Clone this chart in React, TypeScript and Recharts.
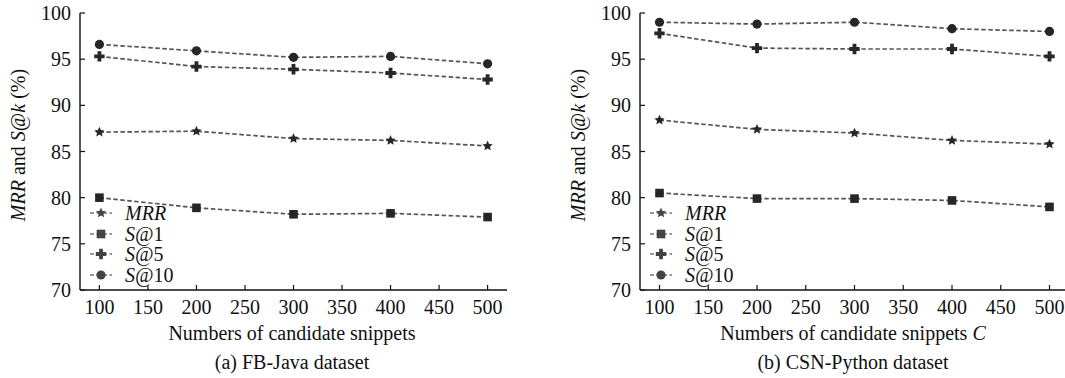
import React from 'react';
import { LineChart, Line, XAxis, YAxis, Legend } from 'recharts';

const candidates = [100, 200, 300, 400, 500];
const xTicks = [100, 150, 200, 250, 300, 350, 400, 450, 500];
const yTicks = [70, 75, 80, 85, 90, 95, 100];

const javaMRR = [87.1, 87.2, 86.4, 86.2, 85.6];
const javaS1 = [80.0, 78.9, 78.2, 78.3, 77.9];
const javaS5 = [95.3, 94.2, 93.9, 93.5, 92.8];
const javaS10 = [96.6, 95.9, 95.2, 95.3, 94.5];

const pyMRR = [88.4, 87.4, 87.0, 86.2, 85.8];
const pyS1 = [80.5, 79.9, 79.9, 79.7, 79.0];
const pyS5 = [97.8, 96.2, 96.1, 96.1, 95.3];
const pyS10 = [99.0, 98.8, 99.0, 98.3, 98.0];

const FONT = "'Liberation Serif', 'Times New Roman', serif";
const MARK = '#262626';
const LINE = '#555555';

const buildData = (mrr: number[], s1: number[], s5: number[], s10: number[]) =>
  candidates.map((c, i) => ({ x: c, mrr: mrr[i], s1: s1[i], s5: s5[i], s10: s10[i] }));

const javaData = buildData(javaMRR, javaS1, javaS5, javaS10);
const pyData = buildData(pyMRR, pyS1, pyS5, pyS10);

type Shape = 'star' | 'square' | 'plus' | 'circle';

function Marker({ shape, cx, cy, color = MARK }: { shape: Shape; cx: number; cy: number; color?: string }) {
  if (cx == null || cy == null) return null;
  if (shape === 'circle') return <circle cx={cx} cy={cy} r={4.6} fill={color} />;
  if (shape === 'square') return <rect x={cx - 4.3} y={cy - 4.3} width={8.6} height={8.6} fill={color} />;
  if (shape === 'star') {
    const pts: string[] = [];
    for (let i = 0; i < 10; i++) {
      const r = i % 2 === 0 ? 5.4 : 2.5;
      const a = -Math.PI / 2 + (i * Math.PI) / 5;
      pts.push(`${cx + r * Math.cos(a)},${cy + r * Math.sin(a)}`);
    }
    return <polygon points={pts.join(' ')} fill={color} />;
  }
  const a = 5.2;
  const w = 1.9;
  const d = `M${cx - w},${cy - a} L${cx + w},${cy - a} L${cx + w},${cy - w} L${cx + a},${cy - w} L${cx + a},${cy + w} L${cx + w},${cy + w} L${cx + w},${cy + a} L${cx - w},${cy + a} L${cx - w},${cy + w} L${cx - a},${cy + w} L${cx - a},${cy - w} L${cx - w},${cy - w} Z`;
  return <path d={d} fill={color} />;
}

const series: { key: string; shape: Shape; label: React.ReactNode }[] = [
  { key: 'mrr', shape: 'star', label: <i>MRR</i> },
  { key: 's1', shape: 'square', label: <><i>S@</i>1</> },
  { key: 's5', shape: 'plus', label: <><i>S@</i>5</> },
  { key: 's10', shape: 'circle', label: <><i>S@</i>10</> },
];

const LegendBox = () => (
  <div style={{ fontFamily: FONT, fontSize: 20, color: '#111' }}>
    {series.map((s) => (
      <div key={s.key} style={{ display: 'flex', alignItems: 'center', height: 20.5 }}>
        <svg width={35} height={20} style={{ display: 'block' }}>
          <line x1={0} y1={10} x2={22} y2={10} stroke="#777" strokeWidth={1.6} strokeDasharray="4 2.5" />
          <Marker shape={s.shape} cx={11} cy={10} color="#444" />
        </svg>
        <span style={{ lineHeight: '20px', fontFamily: FONT }}>{s.label}</span>
      </div>
    ))}
  </div>
);

const YTitle = (props: any) => {
  const vb = props.viewBox || { x: 10, y: 13, width: 70, height: 277 };
  const bx = vb.x + 15;
  const cy = 145;
  return (
    <text
      x={bx}
      y={cy}
      transform={`rotate(-90, ${bx}, ${cy})`}
      textAnchor="middle"
      fontFamily={FONT}
      style={{ fontFamily: FONT }}
      fontSize={20}
      fill="#111"
    >
      <tspan fontStyle="italic">MRR</tspan>
      <tspan> and </tspan>
      <tspan fontStyle="italic">S</tspan>
      <tspan>@</tspan>
      <tspan fontStyle="italic">k</tspan>
      <tspan> (%)</tspan>
    </text>
  );
};

function Panel({
  data,
  left,
  width,
  marginRight,
  center,
  xTitle,
  caption,
}: {
  data: any[];
  left: number;
  width: number;
  marginRight: number;
  center: number;
  xTitle: React.ReactNode;
  caption: string;
}) {
  const tickStyle = { fill: '#111', fontSize: 20, fontFamily: FONT };
  return (
    <>
      <div style={{ position: 'absolute', left, top: 0, fontFamily: FONT }}>
        <LineChart
          width={width}
          height={378}
          data={data}
          style={{ fontFamily: FONT }}
          margin={{ top: 13, right: marginRight, bottom: 58, left: 10 }}
        >
          <XAxis
            xAxisId="b"
            dataKey="x"
            type="number"
            domain={[80, 520]}
            ticks={xTicks}
            interval={0}
            allowDataOverflow
            height={30}
            tickSize={-5}
            tickMargin={15}
            tick={tickStyle}
            axisLine={{ stroke: '#111', strokeWidth: 1.4 }}
            tickLine={{ stroke: '#111', strokeWidth: 1.2 }}
          />
          <XAxis
            xAxisId="t"
            orientation="top"
            type="number"
            domain={[80, 520]}
            height={0}
            tick={false}
            tickLine={false}
            axisLine={{ stroke: '#111', strokeWidth: 1.4 }}
          />
          <YAxis
            yAxisId="l"
            type="number"
            domain={[70, 100]}
            ticks={yTicks}
            interval={0}
            width={70}
            tickSize={-5}
            tickMargin={14}
            tick={tickStyle}
            axisLine={{ stroke: '#111', strokeWidth: 1.4 }}
            tickLine={{ stroke: '#111', strokeWidth: 1.2 }}
            label={{ content: (p: any) => <YTitle {...p} /> }}
          />
          <YAxis
            yAxisId="r"
            orientation="right"
            type="number"
            domain={[70, 100]}
            width={0}
            tick={false}
            tickLine={false}
            axisLine={{ stroke: '#111', strokeWidth: 1.4 }}
          />
          <Legend
            layout="vertical"
            align="center"
            verticalAlign="middle"
            content={() => <LegendBox />}
            wrapperStyle={{ position: 'absolute', left: 90, top: 203, width: 'auto', height: 'auto' }}
          />
          {series.map((s) => (
            <Line
              key={s.key}
              xAxisId="b"
              yAxisId="l"
              dataKey={s.key}
              type="linear"
              stroke={LINE}
              strokeWidth={1.7}
              strokeDasharray="4.5 2.5"
              isAnimationActive={false}
              legendType="none"
              dot={(p: any) => <Marker key={`${s.key}-${p.index}`} shape={s.shape} cx={p.cx} cy={p.cy} />}
              activeDot={false}
            />
          ))}
        </LineChart>
      </div>
      <div
        style={{
          position: 'absolute',
          left: center - 250,
          width: 500,
          top: 321,
          textAlign: 'center',
          fontFamily: FONT,
          fontSize: 20,
          lineHeight: '24px',
          color: '#111',
        }}
      >
        {xTitle}
      </div>
      <div
        style={{
          position: 'absolute',
          left: center - 250,
          width: 500,
          top: 350,
          textAlign: 'center',
          fontFamily: FONT,
          fontSize: 20,
          lineHeight: '24px',
          color: '#111',
        }}
      >
        {caption}
      </div>
    </>
  );
}

export default function App() {
  return (
    <div
      style={{
        position: 'fixed',
        left: 0,
        top: 0,
        width: 1065,
        height: 378,
        overflow: 'hidden',
        background: '#fff',
        fontFamily: FONT,
      }}
    >
      <Panel
        data={javaData}
        left={0}
        width={530}
        marginRight={23}
        center={292}
        xTitle="Numbers of candidate snippets"
        caption="(a) FB-Java dataset"
      />
      <Panel
        data={pyData}
        left={560}
        width={520}
        marginRight={11}
        center={853}
        xTitle={
          <>
            Numbers of candidate snippets <i>C</i>
          </>
        }
        caption="(b) CSN-Python dataset"
      />
    </div>
  );
}
